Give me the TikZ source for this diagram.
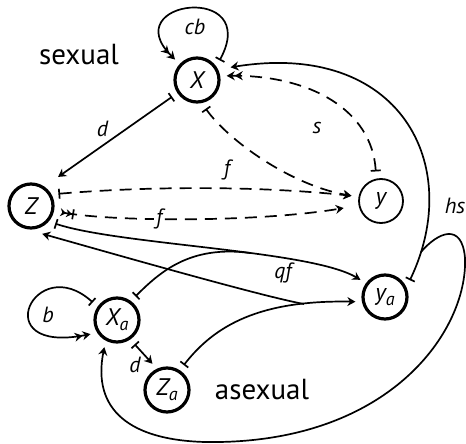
\documentclass[tikz,border=0pt]{standalone}
\usepackage{fontspec}
\setsansfont{PT Sans}
\usetikzlibrary{arrows.meta}
\begin{document}
\begin{tikzpicture}[x=0.5pt, y=-0.5pt, >=Stealth, font=\sffamily,
  v/.style={circle, draw, line width=1.6pt, minimum size=22pt, inner sep=0pt, outer sep=4pt, font=\sffamily\itshape\fontsize{12}{14}\selectfont},
  vthin/.style={v, line width=0.9pt},
  lab/.style={font=\sffamily\itshape\fontsize{11}{13}\selectfont, inner sep=1pt},
  big/.style={font=\sffamily\fontsize{14.5}{17}\selectfont},
  ln/.style={line width=0.85pt},
  tl/.style={ln, arrows={Bar[width=5pt]-}},
  hd/.style={ln, arrows={-Stealth[length=4pt,width=4.5pt]}},
  flow/.style={ln, arrows={Bar[width=5pt]-Stealth[length=4pt,width=4.5pt]}},
  flowtwo/.style={ln, arrows={Bar[width=5pt]-Stealth[length=4pt,width=4.5pt]Stealth[length=4pt,width=4.5pt]}},
  rel/.style={dash pattern=on 6pt off 4pt}]
\useasboundingbox (0,0) rectangle (466,444);
\node[v] (x) at (197,80) {X};
\node[vthin] (y) at (381,201) {y};
\node[v] (z) at (31,206) {Z};
\node[v] (xa) at (117,320) {X\raisebox{-0.4ex}{\small a}};
\node[v] (ya) at (385,297) {y\raisebox{-0.4ex}{\small a}};
\node[v] (za) at (167,390) {Z\raisebox{-0.4ex}{\small a}};
\node[big] (sex) at (79,55) {sexual};
\node[big] (asex) at (262,390) {asexual};
\coordinate (m1) at (250,253);
\coordinate (m2) at (304,304);
\coordinate (m3) at (421,252);
\draw[flowtwo] (x.41) .. controls (262,-18) and (115,0) .. (x.137);
\node[lab] (cb) at (195,27) {cb};
\draw[flow, shorten >=5pt] (x.214) -- node[lab, above left] {d} (z.51);
\draw[flow, rel] (x.287) .. controls (228,140) and (290,185) .. (y.170);
\draw[flowtwo, rel] (y.100) .. controls (372,110) and (310,75) .. (x.8);
\node[lab] (s) at (317,128) {s};
\node[lab] (f1) at (227,170) {f};
\draw[flow, rel] (z.24) .. controls (150,186) and (260,186) .. (y.170);
\draw[ln, rel, arrows={Stealth[reversed,length=3pt,width=4pt]Stealth[reversed,length=3pt,width=4pt]Bar[width=5pt]-Stealth[length=4pt,width=4.5pt]}, shorten >=4pt]
  (z.-12) .. controls (120,222) and (260,222) .. node[lab, fill=white, pos=0.39] {f} (y.191);
\draw[flow, shorten >=3pt] (ya.34) .. controls (465,165) and (400,40) .. (x.23);
\node[lab] (hs) at (455,206) {hs};
\draw[hd] (m3) .. controls (438,232) and (462,222) .. (465,258)
  .. controls (468,330) and (390,445) .. (205,442)
  .. controls (130,440) and (92,410) .. (xa.245);
\draw[flow] (z.-36) .. controls (120,245) and (310,250) .. (ya.145);
\draw[tl] (xa.52) .. controls (160,272) and (190,245) .. (m1);
\node[lab] (qf) at (283,273) {qf};
\draw[flow] (za.56) .. controls (215,325) and (260,300) .. (ya.189);
\draw[hd] (m2) .. controls (260,296) and (100,250) .. (z.-68);
\draw[flowtwo] (xa.144) .. controls (35,250) and (-15,355) .. (xa.208);
\node[lab] (b) at (48,315) {b};
\draw[flow] (xa.-54) -- node[lab, below left] {d} (za.119);
\end{tikzpicture}
\end{document}
